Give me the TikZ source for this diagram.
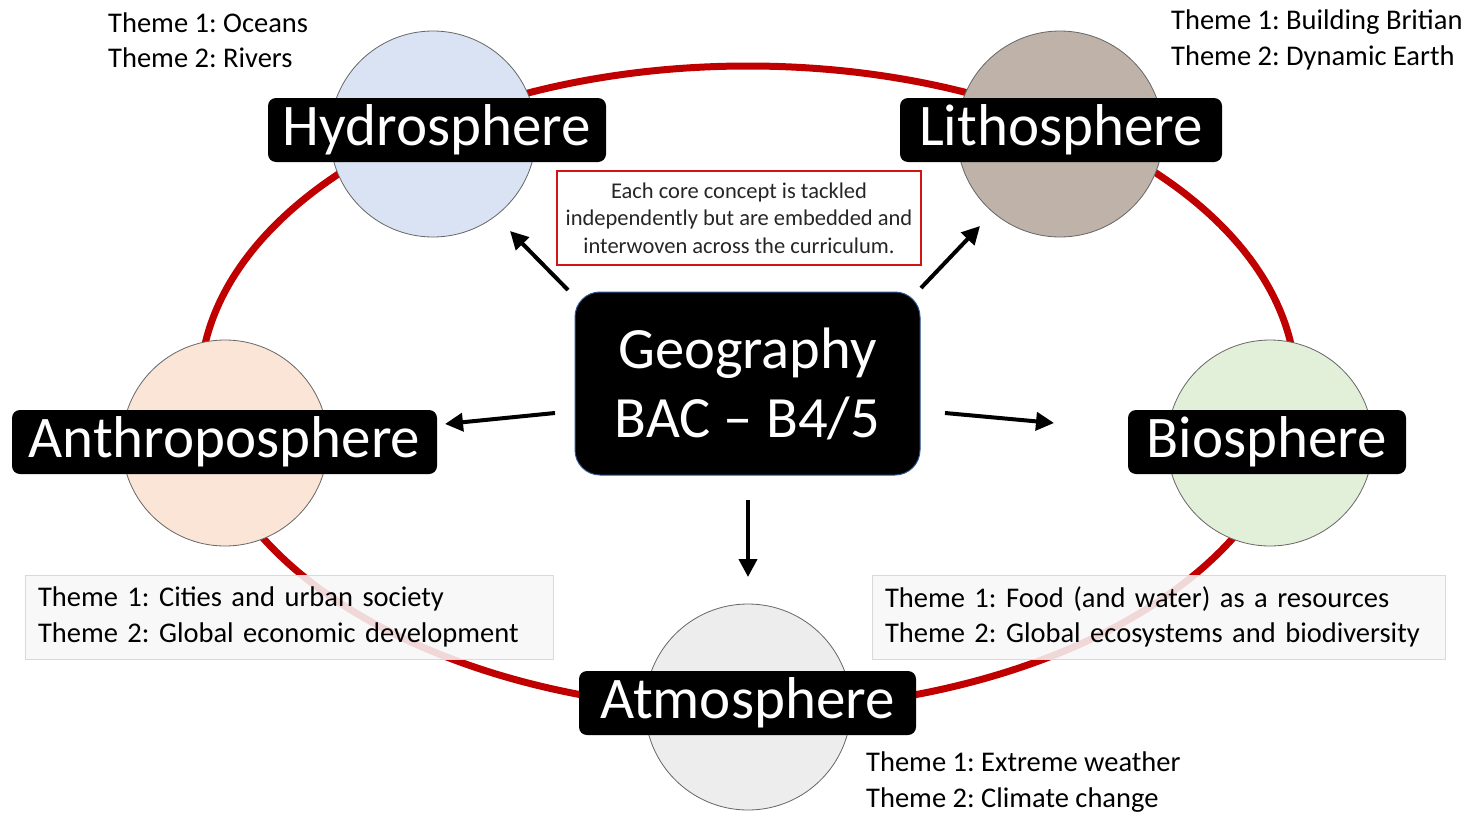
\documentclass[tikz,border=0pt]{standalone}
\usepackage{fontspec}
\setmainfont{Carlito}
\usetikzlibrary{arrows.meta}
\frenchspacing
\definecolor{ringred}{HTML}{C00000}
\definecolor{boxred}{HTML}{D01515}
\definecolor{hydrofill}{HTML}{DAE3F3}
\definecolor{lithofill}{HTML}{BFB2A9}
\definecolor{anthrofill}{HTML}{FBE5D6}
\definecolor{biofill}{HTML}{E2F0D9}
\definecolor{atmofill}{HTML}{EDEDED}
\definecolor{geoborder}{HTML}{2F5597}
\tikzset{
  sphere/.style={circle, draw=black!60, line width=0.8pt, minimum size=206pt, inner sep=0pt},
  label/.style={fill=black, text=white, rounded corners=8pt, inner sep=0pt, minimum height=64pt,
    font=\fontsize{59}{60}\selectfont},
  theme/.style={align=left, inner sep=0pt, font=\fontsize{28.5}{35.5}\selectfont},
  themebox/.style={draw=black!15, fill=black!3, fill opacity=0.88, text opacity=1, minimum height=84pt,
    inner xsep=13pt, align=left, font=\fontsize{28.5}{35.5}\selectfont},
  arr/.style={line width=4pt, -{Triangle[length=18pt,width=18pt]}},
}
\begin{document}
\begin{tikzpicture}[x=1pt,y=-1pt]
\useasboundingbox (0,0) rectangle (1476,814);
% ring
\draw[ringred, line width=7pt] (748,388) ellipse [x radius=548pt, y radius=322pt];
% spheres
\node[sphere, fill=hydrofill] (hc) at (433,134) {};
\node[sphere, fill=lithofill] (lc) at (1060,134) {};
\node[sphere, fill=anthrofill] (ac) at (225,443) {};
\node[sphere, fill=biofill] (bc) at (1270,443) {};
\node[sphere, fill=atmofill] (mc) at (748,707) {};
% labels
\node[label, minimum width=338pt] (hl) at (437,130) {Hydrosphere};
\node[label, minimum width=322pt] (ll) at (1061,130) {Lithosphere};
\node[label, minimum width=425pt] (al) at (224.5,442) {Anthroposphere};
\node[label, minimum width=278pt] (bl) at (1267,442) {Biosphere};
\node[label, minimum width=337pt] (ml) at (747.5,703) {Atmosphere};
% theme texts
\node[theme, anchor=west] (ht) at (108,40) {Theme 1: Oceans\\Theme 2: Rivers};
\node[theme, anchor=west] (lt) at (1171,40) {Theme 1: Building Britian\\Theme 2: Dynamic Earth};
\node[themebox, minimum width=528pt, text width=502pt] (at) at (289,617) {Theme 1: Cities and urban society\\Theme 2: Global economic development};
\node[themebox, minimum width=573pt, text width=547pt] (bt) at (1158.5,617) {Theme 1: Food (and water) as a resources\\Theme 2: Global ecosystems and biodiversity};
\node[theme, anchor=west] (mt) at (866,782) {Theme 1: Extreme weather\\Theme 2: Climate change};
% note
\node[draw=boxred, line width=1.2pt, minimum width=364pt, minimum height=94pt, align=center, inner sep=0pt,
  font=\fontsize{22.5}{27.5}\selectfont, text=black!85] (note) at (739,218)
  {Each core concept is tackled\\independently but are embedded and\\interwoven across the curriculum.};
% centre
\node[fill=black, draw=geoborder, line width=1pt, rounded corners=25pt, minimum width=345pt, minimum height=183pt,
  text=white, align=center, inner sep=0pt, font=\fontsize{58.5}{69}\selectfont] (geo) at (747.5,383.5)
  {Geography\\BAC -- B4/5};
% arrows
\coordinate (h0) at (568,290); \coordinate (h1) at (510,231);
\coordinate (l0) at (921,288); \coordinate (l1) at (980,226);
\coordinate (a0) at (555,413); \coordinate (a1) at (445,424);
\coordinate (b0) at (945,413); \coordinate (b1) at (1054,423);
\coordinate (m0) at (748,500); \coordinate (m1) at (748,577);
\draw[arr] (h0) -- (h1);
\draw[arr] (l0) -- (l1);
\draw[arr] (a0) -- (a1);
\draw[arr] (b0) -- (b1);
\draw[arr] (m0) -- (m1);
\end{tikzpicture}
\end{document}
